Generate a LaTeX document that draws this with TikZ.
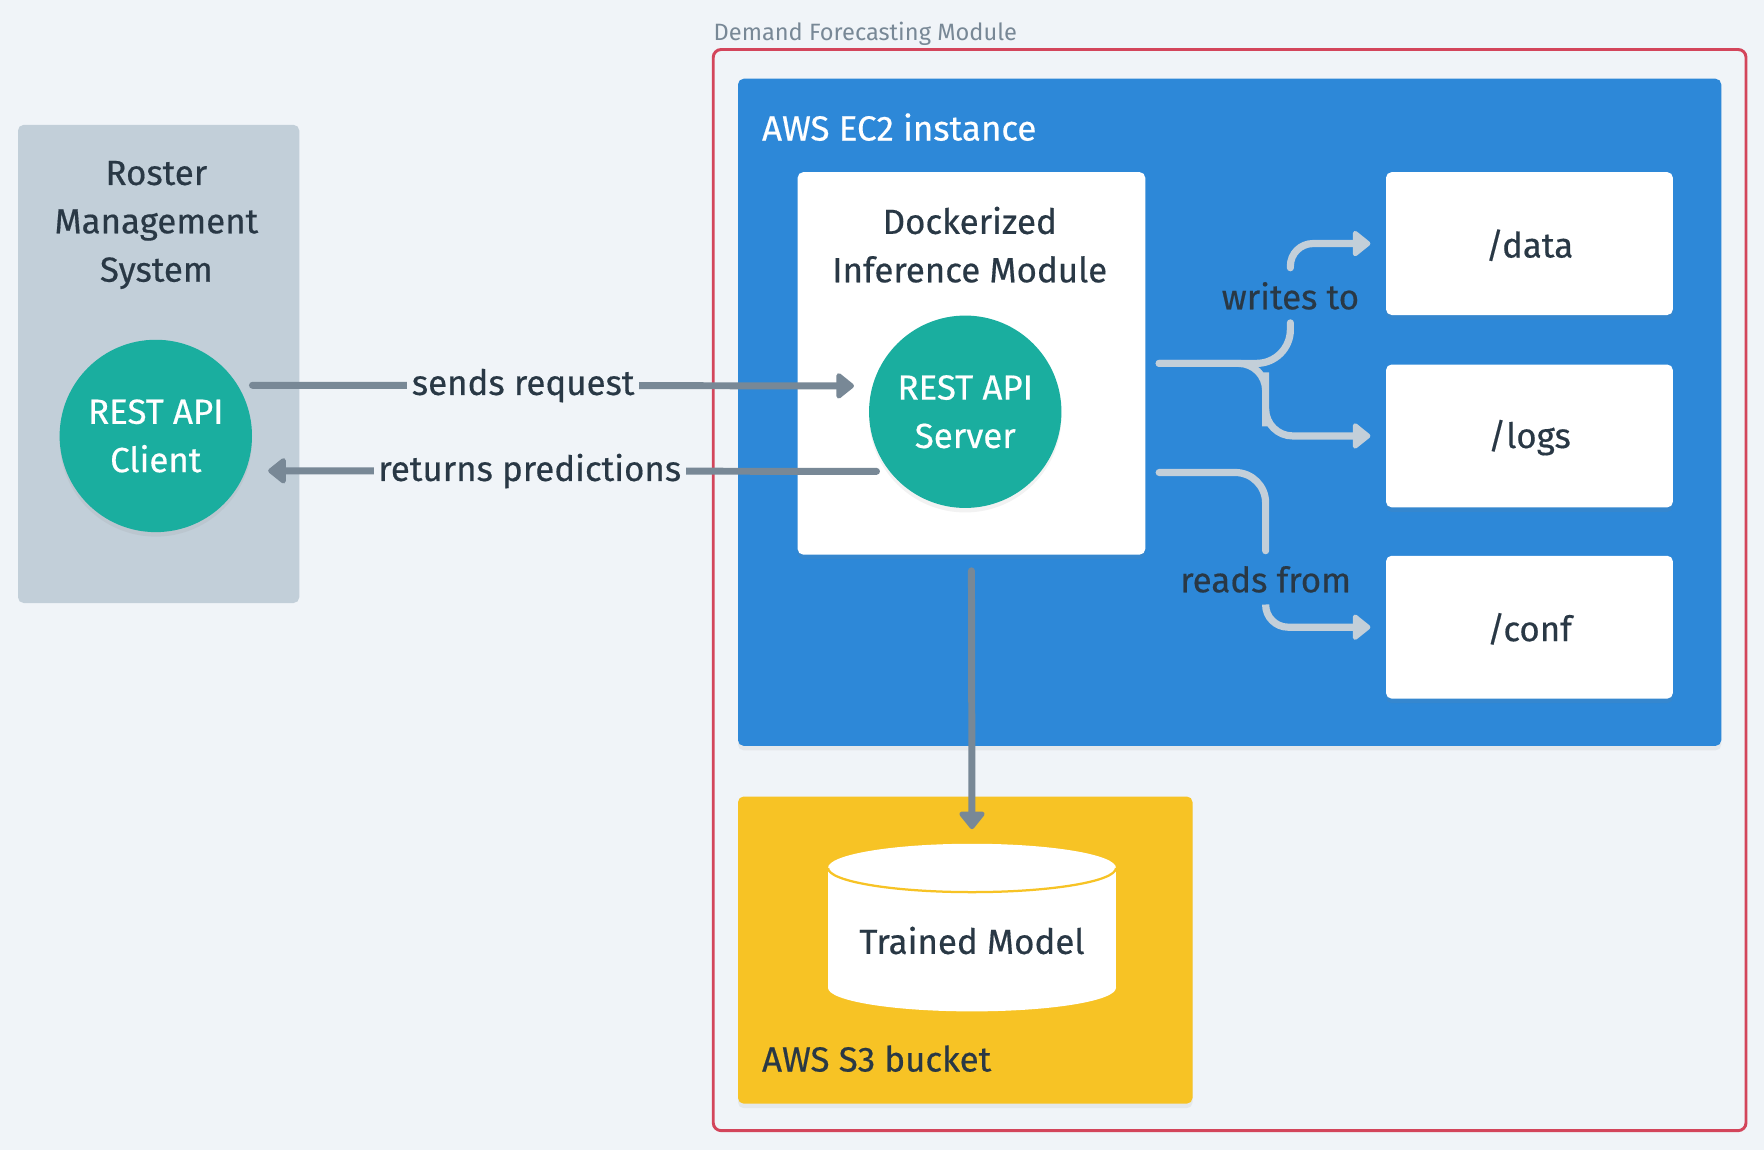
\documentclass[tikz,border=0pt]{standalone}
\usepackage{fontspec}
\setmainfont{Fira Sans}[FakeBold=0.45]
\newfontfamily\titlefont{Fira Sans}
\usetikzlibrary{arrows.meta,calc,shadows}
\definecolor{bg}{HTML}{F0F4F8}
\definecolor{rosterc}{HTML}{C2CFD9}
\definecolor{tealc}{HTML}{1AAE9F}
\definecolor{framec}{HTML}{D3455B}
\definecolor{bluec}{HTML}{2D88D8}
\definecolor{yellowc}{HTML}{F7C325}
\definecolor{grayc}{HTML}{788896}
\definecolor{lightc}{HTML}{C3CFD9}
\definecolor{darkc}{HTML}{293845}
\tikzset{bigtip/.tip={Triangle[length=8.5pt,width=13pt,line join=round]}}
\begin{document}
\begin{tikzpicture}[x=0.5pt,y=-0.5pt,
  font=\fontsize{15.5}{21.5}\selectfont,
  box/.style={rectangle, rounded corners=2.5pt, inner sep=0pt, draw=none},
  softshadow/.style={drop shadow={opacity=0.10, shadow xshift=0pt, shadow yshift=-2pt}},
  circ/.style={circle, fill=tealc, minimum size=85.5pt, inner sep=0pt, text=white, align=center, softshadow},
  txt/.style={text=darkc, align=center, inner sep=0pt},
  lbl/.style={text=darkc, fill=bg, inner xsep=2pt, inner ysep=3pt},
  garrow/.style={draw=grayc, line width=3.1pt, line cap=round, -bigtip},
  lconn/.style={draw=lightc, line width=3.2pt, line cap=round}
]
\fill[bg] (0,0) rectangle (1568,1022);
\useasboundingbox (0,0) rectangle (1568,1022);

% Roster management system
\node[box, fill=rosterc, minimum width=125pt, minimum height=212.5pt] (roster) at (141,323.5) {};
\node[txt] (rostert) at (139,200) {Roster\\Management\\System};
\node[circ] (client) at (138.5,387.5) {REST API\\Client};

% Demand forecasting module frame
\node[box, draw=framec, line width=1.3pt, rounded corners=3.5pt, minimum width=459pt, minimum height=480.5pt] (dfm) at (1093,524.5) {};
\node[anchor=west, inner sep=0pt, text=grayc, font=\titlefont\fontsize{10.5}{12}\selectfont] (dfmt) at (634,30) {Demand Forecasting Module};

% EC2
\node[box, fill=bluec, minimum width=437pt, minimum height=296.5pt, softshadow] (ec2) at (1093,366.5) {};
\node[anchor=west, inner sep=0pt, text=white] (ec2t) at (677,113) {AWS EC2 instance};

\node[box, fill=white, minimum width=154.5pt, minimum height=170pt, softshadow] (docker) at (863.5,323) {};
\node[txt] (dockert) at (862,217.5) {Dockerized\\Inference Module};
\node[circ] (server) at (858,366) {REST API\\Server};

\node[box, fill=white, minimum width=127.5pt, minimum height=63.5pt, softshadow] (data) at (1359.5,216.5) {};
\node[box, fill=white, minimum width=127.5pt, minimum height=63.5pt, softshadow] (logs) at (1359.5,387.5) {};
\node[box, fill=white, minimum width=127.5pt, minimum height=63.5pt, softshadow] (conf) at (1359.5,557.5) {};
\node[txt] (datat) at (1359.5,218) {/data};
\node[txt] (logst) at (1359.5,389) {/logs};
\node[txt] (conft) at (1359.5,559) {/conf};

% S3
\node[box, fill=yellowc, minimum width=202pt, minimum height=136.5pt, softshadow] (s3) at (858,844.5) {};
\node[anchor=west, inner sep=0pt, text=darkc] (s3t) at (677,941) {AWS S3 bucket};

% cylinder
\fill[white] (736,771.5) rectangle (992,878);
\fill[white] (864,878) ellipse [x radius=64pt, y radius=10.5pt];
\fill[white] (864,771.5) ellipse [x radius=64pt, y radius=10.75pt];
\draw[yellowc, line width=1pt] (736,771.5) arc[start angle=180, end angle=360, x radius=64pt, y radius=10.75pt];
\node[txt] (model) at (864,836) {Trained Model};
\coordinate (modeltop) at (864,750);

% request / response
\draw[garrow] ([yshift=22.5pt]client.east) -- node[lbl, pos=0.45] {sends request} ([xshift=-6.5pt,yshift=11.5pt]server.west);
\draw[garrow] ([xshift=3.5pt,yshift=-26.5pt]server.west) -- node[lbl, pos=0.57] {returns predictions} ([xshift=7pt,yshift=-15.5pt]client.east);

% to S3
\draw[garrow] ([yshift=-7pt]docker.south) -- ([yshift=6.5pt]modeltop);

% writes / reads
\coordinate (wup) at (1147,287);
\coordinate (wup2) at (1147,238);
\coordinate (wdn) at (1125,355);
\coordinate (rdn) at (1125,489.5);
\coordinate (rdn2) at (1125,539);
\node[txt] (wlbl) at (1147,263) {writes to};
\node[txt] (rlbl) at (1125,515) {reads from};

\draw[lconn, rounded corners=15pt] ([xshift=6pt]docker.east) -| (wup);
\draw[lconn, -bigtip, rounded corners=10pt] (wup2) |- ([xshift=-6.75pt]data.west);
\draw[lconn, -bigtip, rounded corners=12pt] ([xshift=6pt]docker.east) -| (wdn) |- ([xshift=-6.75pt]logs.west);
\draw[lconn, rounded corners=13.5pt] ([xshift=6pt,yshift=-48.5pt]docker.east) -| (rdn);
\draw[lconn, -bigtip, rounded corners=10pt] (rdn2) |- ([xshift=-6.75pt]conf.west);
\end{tikzpicture}
\end{document}
